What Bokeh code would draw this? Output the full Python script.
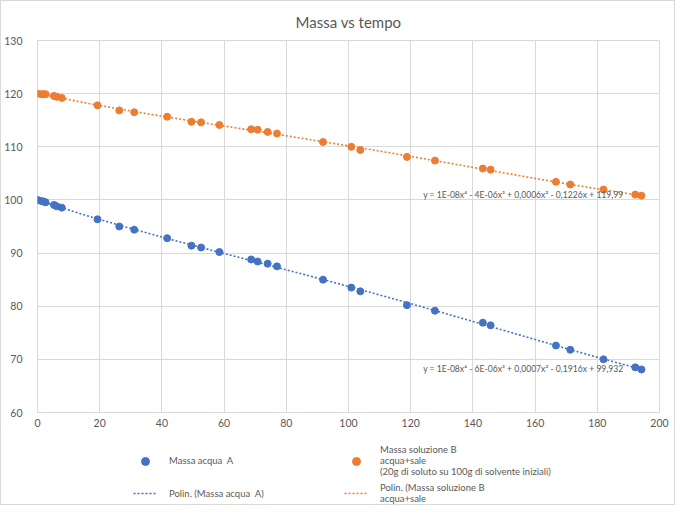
import numpy as np
from bokeh.plotting import figure
from bokeh.layouts import column
from bokeh.models import Legend, LegendItem, Label, Range1d, SingleIntervalTicker
from bokeh.embed import file_html
from bokeh.resources import INLINE

# ---- data ----
tempo = [0, 1.2, 1.9, 2.6, 5.3, 6.2, 7.8, 19.3, 26.3, 31.1, 41.7, 49.5, 52.6, 58.5,
         68.7, 70.8, 74.0, 77.0, 91.8, 100.9, 103.8, 118.8, 127.8, 143.2, 145.7,
         166.7, 171.3, 182.0, 192.2, 194.2]
massa_A = [100.0, 99.8, 99.7, 99.56, 99.05, 98.8, 98.55, 96.35, 95.0, 94.4, 92.8,
           91.4, 91.05, 90.2, 88.8, 88.4, 88.0, 87.5, 85.0, 83.5, 82.8, 80.2, 79.15,
           76.9, 76.4, 72.6, 71.8, 70.0, 68.5, 68.1]
massa_B = [120.0, 119.9, 119.9, 119.9, 119.56, 119.4, 119.2, 117.8, 116.85, 116.5,
           115.65, 114.7, 114.6, 114.1, 113.3, 113.2, 112.8, 112.5, 110.9, 110.0,
           109.4, 108.1, 107.4, 105.9, 105.7, 103.4, 102.9, 101.95, 101.0, 100.8]

title_text = "Massa vs tempo"
label_A = "Massa acqua  A"
label_B = "Massa soluzione B\nacqua+sale\n(20g di soluto su 100g di solvente iniziali)"
label_trend_A = "Polin. (Massa acqua  A)"
label_trend_B = "Polin. (Massa soluzione B\nacqua+sale"
eq_A = "y = 1E-08x\u2074 - 6E-06x\u00b3 + 0,0007x\u00b2 - 0,1916x + 99,932"
eq_B = "y = 1E-08x\u2074 - 4E-06x\u00b3 + 0,0006x\u00b2 - 0,1226x + 119,99"

BLUE = "#4472C4"
ORANGE = "#ED7D31"
GRID = "#D9D9D9"
TXT = "#595959"
FONT = "Lato"

# polynomial (degree 4) trendlines fitted to the data
xs = np.linspace(min(tempo), max(tempo), 200)
fit_A = np.polyval(np.polyfit(tempo, massa_A, 4), xs)
fit_B = np.polyval(np.polyfit(tempo, massa_B, 4), xs)

# ---- main chart ----
p = figure(frame_width=622, frame_height=372, output_backend="svg", toolbar_location=None,
           x_range=Range1d(0, 200), y_range=Range1d(60, 130),
           min_border_left=28, min_border_right=15, min_border_top=35,
           min_border_bottom=22)

p.title.text = title_text
p.title.align = "center"
p.title.text_font = FONT
p.title.text_font_size = "15px"
p.title.text_font_style = "normal"
p.title.text_color = TXT
p.title.standoff = 19

p.xaxis.ticker = SingleIntervalTicker(interval=20)
p.yaxis.ticker = SingleIntervalTicker(interval=10)
for ax in (p.xaxis, p.yaxis):
    ax.axis_line_color = None
    ax.major_tick_line_color = None
    ax.minor_tick_line_color = None
    ax.major_label_text_font = FONT
    ax.major_label_text_font_size = "10.5px"
    ax.major_label_text_color = TXT
p.xaxis.major_label_standoff = 0
p.yaxis.major_label_standoff = 9

p.xgrid.grid_line_color = GRID
p.ygrid.grid_line_color = GRID
p.outline_line_color = GRID

p.scatter(tempo, massa_A, size=7, color=BLUE)
p.scatter(tempo, massa_B, size=7, color=ORANGE)
p.line(xs, fit_A, line_color=BLUE, line_width=1.6, line_dash="2 2")
p.line(xs, fit_B, line_color=ORANGE, line_width=1.6, line_dash="2 2")

p.add_layout(Label(x=124, y=massa_A[-1], text=eq_A, text_font=FONT, text_font_size="8.6px",
                   text_color=TXT, text_baseline="middle"))
p.add_layout(Label(x=124, y=massa_B[-1] + 0.1, text=eq_B, text_font=FONT, text_font_size="8.6px",
                   text_color=TXT, text_baseline="middle"))

# ---- legend strip (below the chart); its renderers hold the same data but lie
# outside this strip's ranges, so only the legend swatches are visible ----
lf = figure(width=665, height=70, output_backend="svg", toolbar_location=None,
            x_range=Range1d(-2, -1), y_range=Range1d(-2, -1),
            x_axis_type=None, y_axis_type=None,
            min_border_left=0, min_border_right=0, min_border_top=0, min_border_bottom=0)
lf.grid.visible = False
lf.outline_line_color = None
lA = lf.scatter(tempo, massa_A, size=7, color=BLUE)
lB = lf.scatter(tempo, massa_B, size=7, color=ORANGE)
ltA = lf.line(tempo, massa_A, line_color=BLUE, line_width=1.6, line_dash="2 2")
ltB = lf.line(tempo, massa_B, line_color=ORANGE, line_width=1.6, line_dash="2 2")

legend = Legend(items=[
    LegendItem(label=label_A, renderers=[lA]),
    LegendItem(label=label_trend_A, renderers=[ltA]),
    LegendItem(label=label_B, renderers=[lB]),
    LegendItem(label=label_trend_B, renderers=[ltB]),
], ncols=2, location=(96, 0), label_text_font=FONT, label_text_font_size="9.5px",
    label_text_color=TXT, border_line_color=None, background_fill_alpha=0,
    label_width=170, glyph_width=24, label_standoff=12, spacing=5, padding=2, margin=0)
lf.add_layout(legend, "center")

layout = column(p, lf, styles={"border": "1px solid #D9D9D9"})

open("out.html", "w").write(file_html(layout, INLINE))
